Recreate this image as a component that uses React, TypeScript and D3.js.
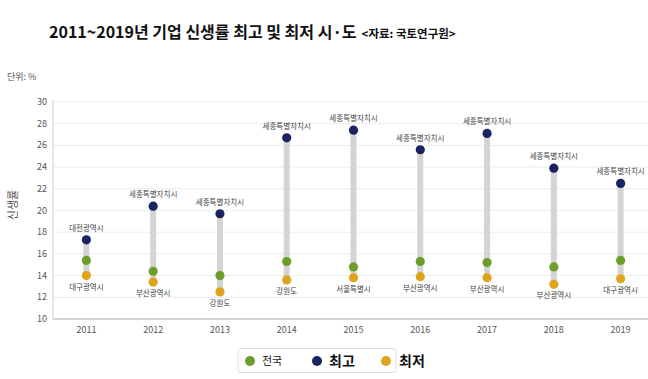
import React from "react";
import * as d3 from "d3";

const years = ["2011", "2012", "2013", "2014", "2015", "2016", "2017", "2018", "2019"];
const national = [15.4, 14.4, 14.0, 15.3, 14.8, 15.3, 15.2, 14.8, 15.4];
const highest = [17.3, 20.4, 19.7, 26.7, 27.4, 25.6, 27.1, 23.9, 22.5];
const lowest = [14.0, 13.4, 12.5, 13.6, 13.8, 13.9, 13.8, 13.2, 13.7];
const highestNames = ["대전광역시", "세종특별자치시", "세종특별자치시", "세종특별자치시", "세종특별자치시", "세종특별자치시", "세종특별자치시", "세종특별자치시", "세종특별자치시"];
const lowestNames = ["대구광역시", "부산광역시", "강원도", "강원도", "서울특별시", "부산광역시", "부산광역시", "부산광역시", "대구광역시"];
const yTicks = [10, 12, 14, 16, 18, 20, 22, 24, 26, 28, 30];

const C_NAT = "#6b9e2b";
const C_HIGH = "#1b2463";
const C_LOW = "#dea51c";
const FONT = "'Noto Sans CJK KR', 'Noto Sans', sans-serif";

export default function App() {
  const W = 648, H = 379;
  const left = 53, bottom = 319, top = 102;
  const x = d3.scaleBand().domain(years).range([left, 654]).paddingInner(0).paddingOuter(0);
  const cx = (y: string) => (x(y) as number) + x.bandwidth() / 2;
  const y = d3.scaleLinear().domain([10, 30]).range([bottom, top]);
  const r = 4.6;

  return (
    <svg width={W} height={H} style={{ position: "absolute", left: 0, top: 0, background: "#fff" }} fontFamily={FONT}>
      <rect width={W} height={H} fill="#fff" />
      <text x={49} y={38} fontWeight={700} fill="#111">
        <tspan fontSize={16}>2011~2019년 기업 신생률 최고 및 최저 시·도</tspan>
        <tspan fontSize={11.5} dx={5}>&lt;자료: 국토연구원&gt;</tspan>
      </text>
      <text x={7} y={80} fontSize={9} fill="#555">단위: %</text>
      <text transform={`translate(17,205) rotate(-90)`} textAnchor="middle" fontSize={11} fill="#555">신생률</text>

      {yTicks.map((t) => (
        <g key={t}>
          {t > 10 && <line x1={left} x2={W} y1={y(t)} y2={y(t)} stroke="#ececec" strokeWidth={1} />}
          <text x={47} y={y(t) + 3} textAnchor="end" fontSize={9} fill="#555">{t}</text>
        </g>
      ))}
      <line x1={left} x2={left} y1={top - 2} y2={bottom} stroke="#cfcfcf" />
      <line x1={left} x2={W} y1={bottom} y2={bottom} stroke="#aaa" />
      {years.map((yr) => (
        <text key={yr} x={cx(yr)} y={bottom + 14} textAnchor="middle" fontSize={9} fill="#555">{yr}</text>
      ))}

      {years.map((yr, i) => (
        <g key={yr}>
          <rect x={cx(yr) - 3} width={6} y={y(highest[i])} height={y(lowest[i]) - y(highest[i])} fill="#d4d4d4" />
          <circle cx={cx(yr)} cy={y(lowest[i])} r={r} fill={C_LOW} />
          <circle cx={cx(yr)} cy={y(national[i])} r={r} fill={C_NAT} />
          <circle cx={cx(yr)} cy={y(highest[i])} r={r} fill={C_HIGH} />
          <text x={cx(yr)} y={y(highest[i]) - 9} textAnchor="middle" fontSize={7.5} fill="#444">{highestNames[i]}</text>
          <text x={cx(yr)} y={y(lowest[i]) + 14} textAnchor="middle" fontSize={7.5} fill="#444">{lowestNames[i]}</text>
        </g>
      ))}

      <rect x={238} y={348.5} width={158} height={24} rx={3} fill="#fff" stroke="#ddd" />
      <circle cx={250} cy={361} r={5} fill={C_NAT} />
      <text x={262} y={365} fontSize={11} fill="#222">전국</text>
      <circle cx={317} cy={361} r={5} fill={C_HIGH} />
      <text x={329} y={366} fontSize={14} fontWeight={700} fill="#111">최고</text>
      <circle cx={386} cy={361} r={5} fill={C_LOW} />
      <text x={399} y={366} fontSize={14} fontWeight={700} fill="#111">최저</text>
    </svg>
  );
}
